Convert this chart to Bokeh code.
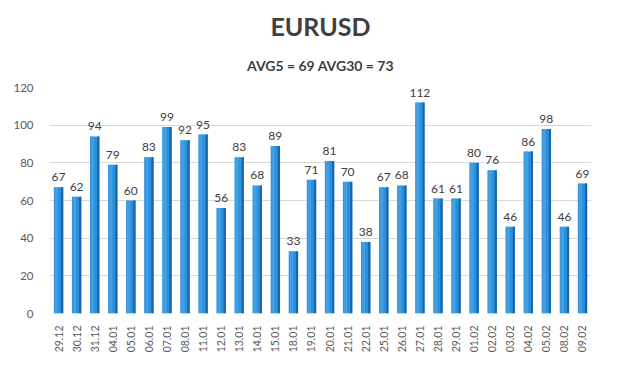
from bokeh.plotting import figure
from bokeh.models import ColumnDataSource, Title, FixedTicker, LabelSet, Range1d
from bokeh.core.properties import value
from bokeh.embed import file_html
from bokeh.resources import INLINE

dates = ["29.12", "30.12", "31.12", "04.01", "05.01", "06.01", "07.01", "08.01", "11.01", "12.01",
         "13.01", "14.01", "15.01", "18.01", "19.01", "20.01", "21.01", "22.01", "25.01", "26.01",
         "27.01", "28.01", "29.01", "01.02", "02.02", "03.02", "04.02", "05.02", "08.02", "09.02"]
values = [67, 62, 94, 79, 60, 83, 99, 92, 95, 56,
          83, 68, 89, 33, 71, 81, 70, 38, 67, 68,
          112, 61, 61, 80, 76, 46, 86, 98, 46, 69]
y_ticks = [0, 20, 40, 60, 80, 100, 120]
title_text = "EURUSD"
subtitle_text = "AVG5 = 69 AVG30 = 73"

FONT = "Lato"

xs = list(range(len(values)))
src = ColumnDataSource(dict(x=xs, top=values, label=[str(v) for v in values],
                            xr=[x + 0.2 for x in xs], xl=[x - 0.12 for x in xs]))

p = figure(width=604, height=376, output_backend="svg", toolbar_location=None,
           x_range=Range1d(-0.5, len(values) - 0.5), y_range=Range1d(0, 120),
           min_border_left=49, min_border_right=13, min_border_top=87, min_border_bottom=63)

p.title.text = title_text
p.title.align = "center"
p.title.text_font = FONT
p.title.text_font_size = "25px"
p.title.text_font_style = "bold"
p.title.text_color = "#404040"
p.title.standoff = 10
p.title.vertical_align = "bottom"
p.add_layout(Title(text=subtitle_text, align="center", text_font=FONT,
                   text_font_size="14px", text_font_style="bold", text_color="#404040",
                   standoff=23, vertical_align="top"), "above")

# main bar body
p.vbar(x="x", top="top", width=0.52, bottom=0, source=src, fill_color="#2b8fd9", line_color=None)
# darker right side
p.vbar(x="xr", top="top", width=0.12, bottom=0, source=src, fill_color="#1a66ab", line_color=None)
# highlight left
p.vbar(x="xl", top="top", width=0.2, bottom=0, source=src, fill_color="#4eaaec", line_color=None, fill_alpha=0.6)

labels = LabelSet(x="x", y="top", text="label", source=src, text_align="center",
                  text_baseline="bottom", y_offset=6, text_font=value(FONT),
                  text_font_size="12px", text_color="#404040")
p.add_layout(labels)

p.yaxis.ticker = FixedTicker(ticks=y_ticks)
p.xaxis.ticker = FixedTicker(ticks=xs)
p.xaxis.major_label_overrides = {i: d for i, d in enumerate(dates)}
p.xaxis.major_label_orientation = 1.5708
p.xaxis.major_label_text_font_size = "10.5px"
p.xaxis.major_label_text_color = "#595959"
p.xaxis.major_label_text_font = FONT
p.yaxis.major_label_text_font_size = "11.5px"
p.yaxis.major_label_text_color = "#595959"
p.yaxis.major_label_text_font = FONT
for ax in (p.xaxis, p.yaxis):
    ax.axis_line_color = None
    ax.major_tick_line_color = None
    ax.minor_tick_line_color = None
p.xaxis.major_label_standoff = 6
p.yaxis.major_label_standoff = 10

p.xgrid.grid_line_color = None
p.ygrid.grid_line_color = "#d9d9d9"
p.ygrid.ticker = FixedTicker(ticks=y_ticks)
p.outline_line_color = None

open("out.html", "w").write(file_html(p, INLINE))
